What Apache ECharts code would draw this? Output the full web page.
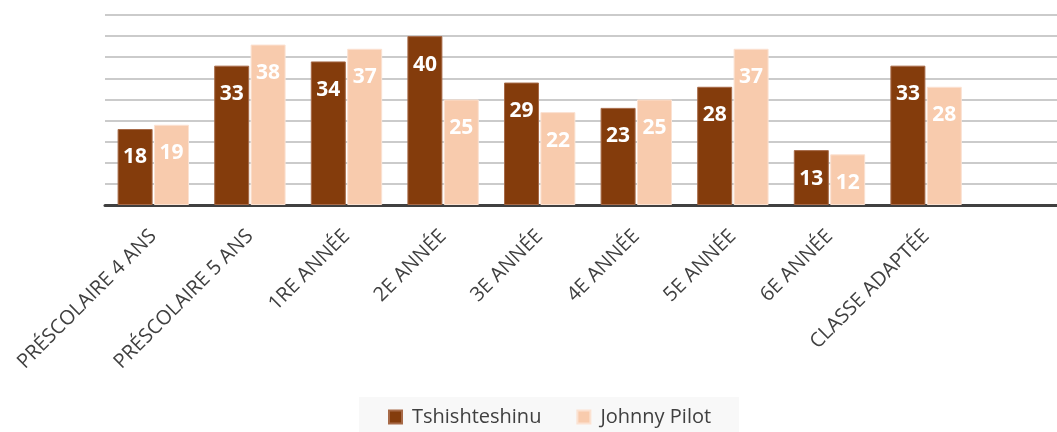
<!DOCTYPE html>
<html>
<head>
<meta charset="utf-8">
<script src="https://cdn.jsdelivr.net/npm/echarts@6/dist/echarts.min.js"></script>
<style>
html,body{margin:0;padding:0;background:#fff;overflow:hidden;width:1057px;height:432px;}
#chart{width:1071px;height:432px;}
</style>
</head>
<body>
<div id="chart"></div>
<script>
const categories = ['PRÉSCOLAIRE 4 ANS','PRÉSCOLAIRE 5 ANS','1RE ANNÉE','2E ANNÉE','3E ANNÉE','4E ANNÉE','5E ANNÉE','6E ANNÉE','CLASSE ADAPTÉE'];
const tshishteshinu = [18,33,34,40,29,23,28,13,33];
const johnnyPilot = [19,38,37,25,22,25,37,12,28];
const seriesNames = ['Tshishteshinu','Johnny Pilot'];

const axisCats = categories.concat(['']);
const chart = echarts.init(document.getElementById('chart'), null, {renderer:'canvas'});
const font = 'Open Sans';
const labelCfg = {
  show:true, position:'insideTop', distance:18,
  color:'#ffffff', fontFamily:font, fontWeight:'bold', fontSize:21
};
chart.setOption({
  animation:false,
  backgroundColor:'#ffffff',
  grid:{left:105, right:0, top:15, height:190, containLabel:false},
  legend:{
    data:seriesNames,
    left:359, top:397,
    backgroundColor:'#f8f8f8',
    padding:[10,28,20,29],
    itemWidth:13, itemHeight:13, itemGap:35,
    icon:'rect',
    textStyle:{fontFamily:font, fontSize:20, color:'#404040', padding:[0,0,0,5]}
  },
  xAxis:{
    type:'category', data:axisCats,
    axisLine:{lineStyle:{color:'#404040', width:3}},
    axisTick:{show:false},
    axisLabel:{rotate:45, interval:0, margin:28, fontFamily:font, fontSize:20, color:'#404040'}
  },
  yAxis:{
    type:'value', min:0, max:45, interval:5,
    axisLabel:{show:false}, axisLine:{show:false}, axisTick:{show:false},
    splitLine:{lineStyle:{color:'#cbcbcb', width:2}}
  },
  series:[
    {name:seriesNames[0], type:'bar', data:tshishteshinu, barWidth:35, barGap:'4%',
     itemStyle:{color:'#843C0C', borderColor:'#a76a48', borderWidth:1}, label:labelCfg},
    {name:seriesNames[1], type:'bar', data:johnnyPilot, barWidth:35, barGap:'4%',
     itemStyle:{color:'#F8CBAD', borderColor:'#fbe2d2', borderWidth:1}, label:labelCfg}
  ]
});
</script>
</body>
</html>
